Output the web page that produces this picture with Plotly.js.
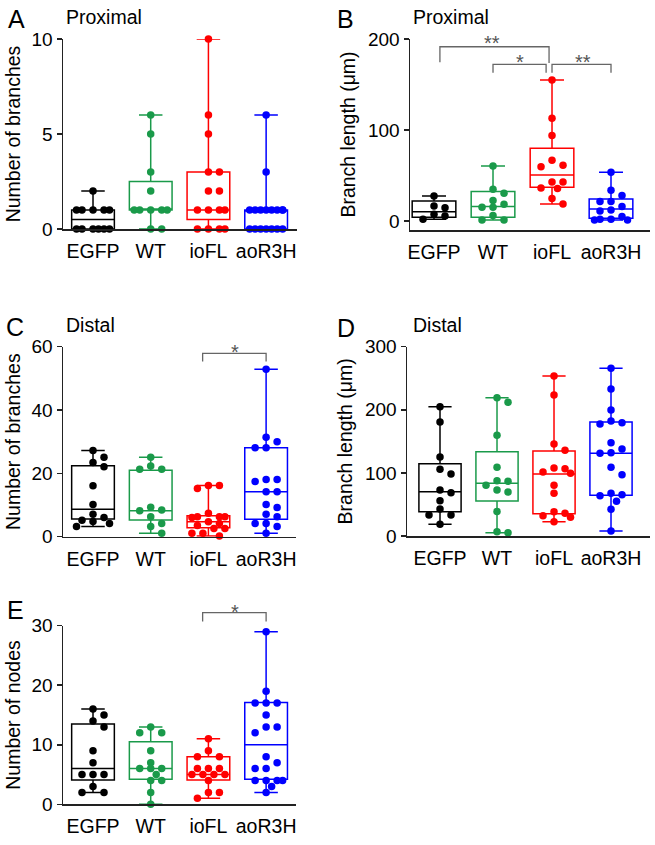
<!DOCTYPE html>
<html><head><meta charset="utf-8">
<script src="https://cdn.plot.ly/plotly-3.0.1.min.js"></script>
<style>html,body{margin:0;padding:0;background:#fff}#chart{width:655px;height:845px}</style>
</head><body><div id="chart"></div>
<script>
// ---------------- DATA ----------------
const categories = ['EGFP', 'WT', 'ioFL', 'aoR3H'];

// A: Proximal - Number of branches
const aEGFP  = [2, 1, 1, 1, 1, 1, 0, 0, 0, 0, 0, 0];
const aWT    = [6, 5, 3, 2, 1, 1, 1, 1, 1, 0, 0];
const aIoFL  = [10, 6, 5, 3, 3, 2, 2, 1, 1, 1, 1, 0, 0, 0, 0];
const aAoR3H = [6, 3, 1, 1, 1, 1, 1, 1, 1, 1, 0, 0, 0, 0, 0, 0, 0];
const aQ1  = [0, 1, 0.5, 0];
const aMed = [0.5, 1, 1, 1];
const aQ3  = [1, 2.5, 3, 1];

// B: Proximal - Branch length (um)
const bEGFP  = [27.5, 16.5, 14.6, 7.3, 5.5, 1.8];
const bWT    = [60.4, 34.8, 30.4, 22.3, 18.3, 15, 15, 5.9, 1.1, 1.1];
const bIoFL  = [155, 112.8, 93.8, 66.7, 61.2, 59.5, 42.9, 42.9, 36.3, 35.5, 24.5, 18.7];
const bAoR3H = [53.5, 33.7, 27.8, 21.2, 21.2, 15.8, 12.1, 11, 4.8, 1.8, 1.1, 1.1, 1.8];
const bQ1  = [4, 4, 37, 3];
const bMed = [10.2, 15.8, 50.5, 13.2];
const bQ3  = [22, 32.2, 79.9, 24.2];

// C: Distal - Number of branches
const cEGFP  = [27.2, 25.1, 23.4, 22.1, 16.1, 10.2, 7.1, 6.1, 5.2, 4.8, 4.2, 3.2];
const cWT    = [25.1, 22.3, 21.3, 21.3, 9.3, 8.4, 8.2, 6.3, 4.2, 3.2, 1.1];
const cIoFL  = [16.2, 15.2, 16.2, 7.4, 6.3, 6.3, 6.3, 6.1, 4.7, 4.2, 3.5, 2.6, 2.6, 1.1, 0.2, 1.1];
const cAoR3H = [52.9, 31.4, 30, 28.1, 28.1, 18.1, 18.1, 17.4, 14.2, 14.2, 10.2, 9.2, 7.1, 6.3, 4.2, 4.2, 3.2, 1.1];
const cQ1  = [5.6, 5.3, 2.8, 5.5];
const cMed = [8.7, 8.2, 4.7, 14.2];
const cQ3  = [22.4, 21, 6.6, 28.1];

// D: Distal - Branch length (um)
const dEGFP  = [204.9, 180.6, 125.2, 105.6, 98.3, 72.9, 68.6, 56, 42.8, 33.3, 33.3, 18.5];
const dWT    = [219, 211.8, 159.5, 108.8, 87.6, 86.6, 80.3, 72.9, 69.7, 39, 6.8, 5.3];
const dIoFL  = [253.6, 223.5, 145.8, 135.8, 107.8, 106.7, 101.4, 99.3, 80.3, 67.6, 38.5, 35.9, 32.2, 29.6, 22.7];
const dAoR3H = [265.7, 232.9, 199.7, 182.2, 179.6, 177.5, 147.8, 137.9, 132, 131, 108.8, 97.2, 67.6, 65.5, 63.9, 55, 42.3, 7.9];
const dQ1  = [38.5, 55.4, 35.3, 64.4];
const dMed = [70.2, 83.4, 98.2, 131];
const dQ3  = [114.6, 133.6, 134.7, 180.6];

// E: Number of nodes
const eEGFP  = [16, 15, 14, 13, 9, 7, 5, 5, 5, 3, 2, 2];
const eWT    = [13, 12, 12, 9, 7, 6, 6, 6, 5, 4, 4, 2, 0];
const eIoFL  = [11, 9, 8, 8, 6, 6, 6, 5, 5, 5, 5, 4, 2, 2, 1];
const eAoR3H = [29, 19, 17, 17, 17, 15, 13, 13, 12, 8, 7, 6, 6, 4, 4, 4, 4, 3, 2];
const eQ1  = [4.1, 4.2, 4.1, 4.2];
const eMed = [6, 6, 5, 10];
const eQ3  = [13.5, 10.5, 8, 17.1];

const yTitles = ['Number of branches', 'Branch length (μm)', 'Number of branches', 'Branch length (μm)', 'Number of nodes'];
const panelLetters = ['A', 'B', 'C', 'D', 'E'];
const subTitles = ['Proximal', 'Proximal', 'Distal', 'Distal', ''];

// ---------------- STYLE / LAYOUT ----------------
const colors = ['#000000', '#1A9A4A', '#FF0000', '#0000FF'];
const W = 655, H = 845;
const FONT = 'Liberation Sans, Arial, sans-serif';

const panels = [
  {vals: [aEGFP, aWT, aIoFL, aAoR3H], q1: aQ1, med: aMed, q3: aQ3,
   px: [63, 297], py: [39, 229], yr: [0, 10], xr: [-0.52, 3.535], dtick: 5, standoff: 5,
   letter: [16, 19], sub: [64, 17]},
  {vals: [bEGFP, bWT, bIoFL, bAoR3H], q1: bQ1, med: bMed, q3: bQ3,
   px: [410, 650], py: [39, 230], yr: [-10, 200], xr: [-0.407, 3.661], dtick: 100, standoff: 7,
   letter: [346, 19], sub: [411, 17]},
  {vals: [cEGFP, cWT, cIoFL, cAoR3H], q1: cQ1, med: cMed, q3: cQ3,
   px: [63, 296], py: [346.7, 536.7], yr: [0, 60], xr: [-0.52, 3.518], dtick: 20, standoff: 5,
   letter: [15, 327], sub: [64, 325]},
  {vals: [dEGFP, dWT, dIoFL, dAoR3H], q1: dQ1, med: dMed, q3: dQ3,
   px: [407, 650], py: [346.7, 536], yr: [0, 300], xr: [-0.579, 3.684], dtick: 100, standoff: 7,
   letter: [346, 328], sub: [411, 325]},
  {vals: [eEGFP, eWT, eIoFL, eAoR3H], q1: eQ1, med: eMed, q3: eQ3,
   px: [63, 296], py: [625.7, 804.3], yr: [0, 30], xr: [-0.52, 3.518], dtick: 10, standoff: 5,
   letter: [15, 610], sub: null}
];

// significance brackets in (category index, value) units
const brackets = [
  {p: 1, x0: 0.1, x1: 1.95, y: 191.5, l0: 174.4, l1: 173.6, star: '**', sx: 0.98, sy: 200.8},
  {p: 1, x0: 1.0, x1: 1.9, y: 172, l0: 163, l1: 163, star: '*', sx: 1.45, sy: 180.5},
  {p: 1, x0: 2.0, x1: 3.0, y: 172, l0: 163, l1: 163, star: '**', sx: 2.53, sy: 180.5},
  {p: 2, x0: 1.9, x1: 3.0, y: 57.9, l0: 55.3, l1: 55.3, star: '*', sx: 2.46, sy: 60},
  {p: 4, x0: 1.9, x1: 3.0, y: 32.2, l0: 30.7, l1: 30.7, star: '*', sx: 2.46, sy: 33.2}
];

function toPx(pn, cat, val) {
  const xPx = pn.px[0] + (cat - pn.xr[0]) / (pn.xr[1] - pn.xr[0]) * (pn.px[1] - pn.px[0]);
  const yPx = pn.py[1] - (val - pn.yr[0]) / (pn.yr[1] - pn.yr[0]) * (pn.py[1] - pn.py[0]);
  return [xPx, yPx];
}

// beeswarm: horizontal offsets (px) chosen to minimise marker overlap
function swarm(vals, pxPerUnit) {
  const n = vals.length;
  const s = 11, dc = 8;
  const cands = [0, s, -s, s / 2, -s / 2, 1.5 * s, -1.5 * s];
  const order = vals.map((v, i) => i).sort((a, b) => (vals[b] - vals[a]) || (a - b));
  const off = new Array(n).fill(0);
  const placed = [];
  order.forEach(idx => {
    const y = vals[idx] * pxPerUnit;
    let best = 0, bestCost = Infinity;
    cands.forEach(c => {
      let cost = 0;
      placed.forEach(p => {
        const d = Math.hypot(p[0] - c, p[1] - y);
        if (d < dc) cost += dc - d;
      });
      if (cost < bestCost - 1e-9) { bestCost = cost; best = c; }
    });
    off[idx] = best;
    placed.push([best, y]);
  });
  return off;
}

const traces = [];
const layout = {
  width: W, height: H, margin: {l: 0, r: 0, t: 0, b: 0},
  paper_bgcolor: '#fff', plot_bgcolor: 'rgba(0,0,0,0)',
  showlegend: false, font: {family: FONT, color: '#000'},
  boxmode: 'overlay', annotations: [], shapes: []
};

panels.forEach((pn, pi) => {
  const xid = pi === 0 ? 'x' : 'x' + (pi + 1);
  const yid = pi === 0 ? 'y' : 'y' + (pi + 1);
  const xkey = pi === 0 ? 'xaxis' : 'xaxis' + (pi + 1);
  const ykey = pi === 0 ? 'yaxis' : 'yaxis' + (pi + 1);
  layout[xkey] = {
    domain: [pn.px[0] / W, pn.px[1] / W], range: pn.xr, anchor: yid,
    tickmode: 'array', tickvals: categories.map((c, i) => i), ticktext: categories,
    showline: true, linecolor: '#222', linewidth: 1.5, ticks: '', showgrid: false, zeroline: false,
    tickfont: {size: 19.5, family: FONT, color: '#000'}, ticklabelstandoff: 4, fixedrange: true
  };
  layout[ykey] = {
    domain: [1 - pn.py[1] / H, 1 - pn.py[0] / H], range: pn.yr, anchor: xid,
    tick0: 0, dtick: pn.dtick, ticks: 'outside', ticklen: 5, tickwidth: 1.5, tickcolor: '#222',
    showline: true, linecolor: '#222', linewidth: 1.5, showgrid: false, zeroline: false,
    tickfont: {size: 19, family: FONT, color: '#000'}, fixedrange: true,
    title: {text: yTitles[pi], font: {size: 19.5, family: FONT, color: '#000'}, standoff: pn.standoff}
  };
  const pxPerUnit = (pn.py[1] - pn.py[0]) / (pn.yr[1] - pn.yr[0]);
  const pxPerCat = (pn.px[1] - pn.px[0]) / (pn.xr[1] - pn.xr[0]);
  pn.vals.forEach((vals, gi) => {
    traces.push({
      type: 'box', xaxis: xid, yaxis: yid, x: [gi],
      q1: [pn.q1[gi]], median: [pn.med[gi]], q3: [pn.q3[gi]],
      lowerfence: [Math.min(...vals)], upperfence: [Math.max(...vals)],
      width: 0.74, whiskerwidth: 0.55, boxpoints: false,
      line: {color: colors[gi], width: 1.5}, fillcolor: 'rgba(0,0,0,0)',
      hoverinfo: 'skip', name: categories[gi]
    });
    const off = swarm(vals, pxPerUnit);
    traces.push({
      type: 'scatter', mode: 'markers', xaxis: xid, yaxis: yid,
      x: vals.map((v, i) => gi + off[i] / pxPerCat), y: vals,
      marker: {color: colors[gi], size: 7.5, line: {width: 0}},
      cliponaxis: false, hoverinfo: 'y', name: categories[gi]
    });
  });
  layout.annotations.push({
    xref: 'paper', yref: 'paper', x: pn.letter[0] / W, y: 1 - pn.letter[1] / H,
    xanchor: 'center', yanchor: 'middle', text: panelLetters[pi], showarrow: false,
    font: {size: 25, family: FONT, color: '#000'}
  });
  if (pn.sub) {
    layout.annotations.push({
      xref: 'paper', yref: 'paper', x: pn.sub[0] / W, y: 1 - pn.sub[1] / H,
      xanchor: 'left', yanchor: 'middle', text: subTitles[pi], showarrow: false,
      font: {size: 19.5, family: FONT, color: '#000'}
    });
  }
});

brackets.forEach(b => {
  const pn = panels[b.p];
  const a = toPx(pn, b.x0, b.l0), c = toPx(pn, b.x0, b.y), d = toPx(pn, b.x1, b.y), e = toPx(pn, b.x1, b.l1);
  const f = q => (q[0] / W).toFixed(5) + ',' + (1 - q[1] / H).toFixed(5);
  layout.shapes.push({
    type: 'path', xref: 'paper', yref: 'paper',
    path: 'M' + f(a) + 'L' + f(c) + 'L' + f(d) + 'L' + f(e),
    line: {color: '#666', width: 1.3}
  });
  const s = toPx(pn, b.sx, b.sy);
  layout.annotations.push({
    xref: 'paper', yref: 'paper', x: s[0] / W, y: 1 - (s[1] + 5) / H,
    xanchor: 'center', yanchor: 'middle', text: b.star, showarrow: false,
    font: {size: 20, family: FONT, color: '#555'}
  });
});

Plotly.newPlot('chart', traces, layout, {displayModeBar: false, staticPlot: true});
</script>
</body></html>
